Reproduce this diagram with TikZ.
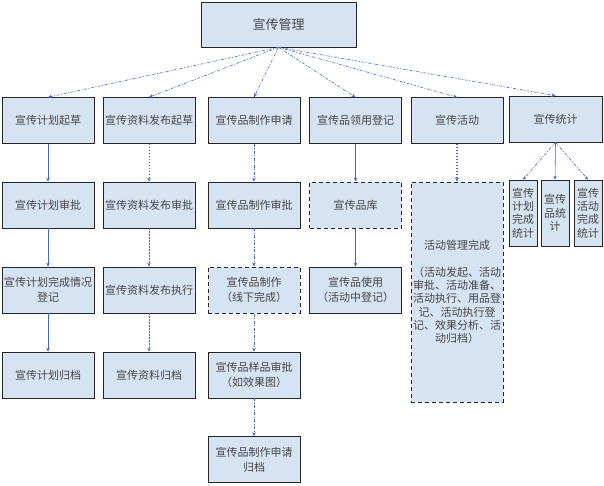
\documentclass[tikz,border=0pt]{standalone}
\usepackage{fontspec}
\setmainfont{Noto Sans CJK SC}
\usetikzlibrary{arrows.meta}
\definecolor{boxfill}{RGB}{214,227,243}
\definecolor{linkblue}{RGB}{68,108,182}
\definecolor{txtgray}{RGB}{70,70,70}
\tikzset{
  box/.style={draw=black!85, line width=0.6pt, fill=boxfill, text=txtgray,
    font=\fontsize{11}{15}\selectfont, align=center, inner sep=1pt,
    minimum width=92pt, minimum height=46pt},
  dbox/.style={box, line width=1pt, dash pattern=on 4pt off 3pt},
  sbox/.style={box, minimum width=28pt, minimum height=66pt,
    font=\fontsize{11}{13.3}\selectfont},
  conn/.style={draw=linkblue, line width=0.6pt, -{Stealth[length=4pt,width=3.5pt]}},
  dd/.style={dash pattern=on 3pt off 1.5pt on 1pt off 1.5pt},
  dt/.style={dash pattern=on 1.5pt off 1.5pt},
}
\begin{document}
\begin{tikzpicture}[x=1pt,y=-1pt]
\useasboundingbox (0,0) rectangle (604,485);
% top
\node[box, minimum width=155pt, minimum height=45pt, font=\fontsize{13}{15}\selectfont] (top) at (278.5,24.5) {宣传管理};
% row 1
\node[box] (a1) at (48,120.5) {宣传计划起草};
\node[box] (b1) at (149,120.5) {宣传资料发布起草};
\node[box] (c1) at (254,120.5) {宣传品制作申请};
\node[box] (d1) at (355.5,120.5) {宣传品领用登记};
\node[box] (e1) at (457,120.5) {宣传活动};
\node[box, minimum width=93pt] (f1) at (555.5,119) {宣传统计};
% row 2
\node[box] (a2) at (48,205) {宣传计划审批};
\node[box] (b2) at (149,205) {宣传资料发布审批};
\node[box] (c2) at (254,205) {宣传品制作审批};
\node[dbox] (d2) at (355.5,205) {宣传品库};
\node[dbox, minimum height=220pt, font=\fontsize{11}{13.3}\selectfont] (e2) at (457,292)
  {活动管理完成\\[13.3pt]（活动发起、活动\\审批、活动准备、\\活动执行、用品登\\记、活动执行登\\记、效果分析、活\\动归档）};
% stats
\node[sbox] (f2) at (523,213) {宣传\\计划\\完成\\统计};
\node[sbox] (f3) at (555,213) {宣传\\品统\\计};
\node[sbox] (f4) at (588,213) {宣传\\活动\\完成\\统计};
% row 3
\node[box] (a3) at (48,290) {宣传计划完成情况\\登记};
\node[box] (b3) at (149,290) {宣传资料发布执行};
\node[dbox] (c3) at (254,290) {宣传品制作\\（线下完成）};
\node[box] (d3) at (355.5,290) {宣传品使用\\（活动中登记）};
% row 4
\node[box] (a4) at (48,375) {宣传计划归档};
\node[box] (b4) at (149,375) {宣传资料归档};
\node[box] (c4) at (254,375) {宣传品样品审批\\（如效果图）};
% row 5
\node[box] (c5) at (254,459.5) {宣传品制作申请\\归档};
% connectors from top
\foreach \n in {a1,b1,c1,d1,e1,f1} \draw[conn, dd] (top.south) -- (\n.north);
% column 1
\draw[conn] (a1) -- (a2);
\draw[conn] (a2) -- (a3);
\draw[conn] (a3) -- (a4);
% column 2
\draw[conn, dt] (b1) -- (b2);
\draw[conn, dt] (b2) -- (b3);
\draw[conn, dt] (b3) -- (b4);
% column 3
\draw[conn, dd] (c1) -- (c2);
\draw[conn, dd] (c2) -- (c3);
\draw[conn, dd] (c3) -- (c4);
\draw[conn, dd] (c4) -- (c5);
% column 4
\draw[conn] (d1) -- (d2);
\draw[conn] (d2) -- (d3);
% column 5
\draw[conn, line width=1.5pt, dash pattern=on 1.5pt off 1.5pt, -{Stealth[length=4pt,width=4pt]}] (e1) -- (e2);
% column 6
\draw[conn, dd] (f1.south) -- (f2.north);
\draw[conn] (f1.south) -- (f3.north);
\draw[conn, dd] (f1.south) -- (f4.north);
\end{tikzpicture}
\end{document}
